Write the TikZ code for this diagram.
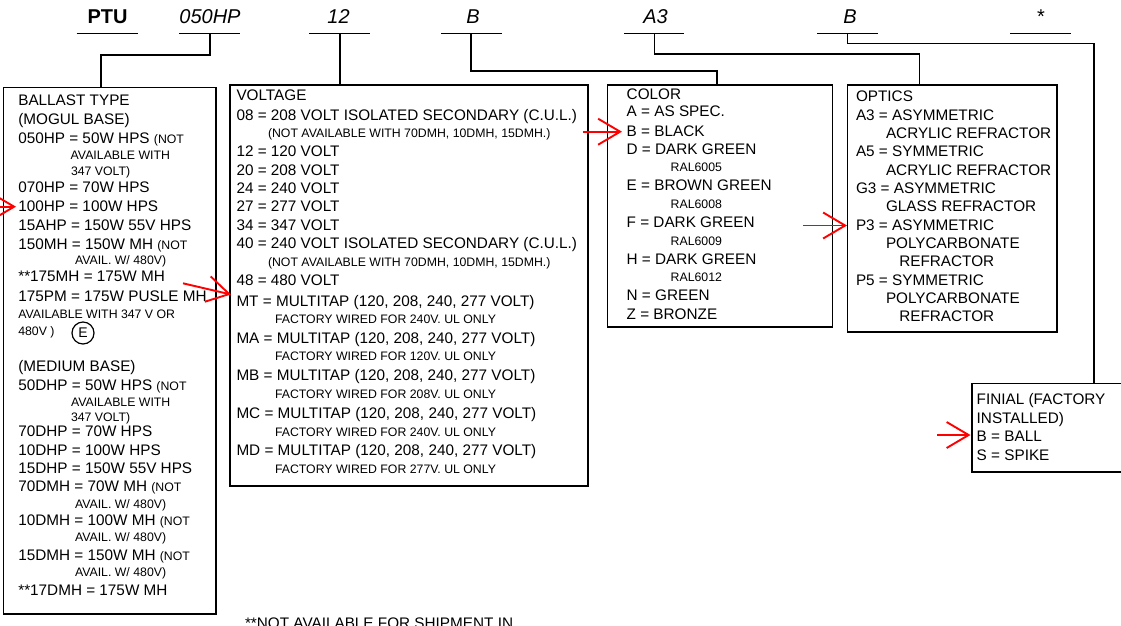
\documentclass[tikz,border=0pt]{standalone}
\usepackage{fontspec}
\setmainfont{Liberation Sans}
\usetikzlibrary{arrows.meta}
\newcommand\fbig{\fontsize{15.3}{18}\selectfont}
\newcommand\fsml{\fontsize{12.3}{14}\selectfont}
\newcommand\ftop{\fontsize{20}{24}\selectfont}
\begin{document}
\begin{tikzpicture}[x=1pt,y=-1pt,
  tx/.style={anchor=base west, inner sep=0pt, outer sep=0pt, font=\fbig},
  sm/.style={tx, font=\fsml},
  box/.style={draw, line width=1.6pt, anchor=north west, inner sep=0pt, outer sep=0pt},
  conn/.style={line width=1.6pt},
  uline/.style={line width=1.6pt},
  toplbl/.style={anchor=base, inner sep=0pt, font=\ftop\itshape},
  redarr/.style={draw=red, line width=1.9pt, -{Straight Barb[length=22pt,width=26pt]}}]
\useasboundingbox (0,0) rectangle (1121,625);
\clip (0,0) rectangle (1121,625);

% ---------- top code labels ----------
\node[toplbl, font=\ftop\bfseries] (lptu) at (107.5,23.3) {PTU};
\node[toplbl] (l050) at (210,23.3) {050HP};
\node[toplbl] (l12) at (338.5,23.3) {12};
\node[toplbl] (lb1) at (473,23.3) {B};
\node[toplbl] (la3) at (655.5,23.3) {A3};
\node[toplbl] (lb2) at (850,23.3) {B};
\node[toplbl, font=\ftop] (lst) at (1041,23.3) {*};

\coordinate (uptuL) at (76.7,33.3);  \coordinate (uptuR) at (138.3,33.3);
\coordinate (u050L) at (179.3,33.3); \coordinate (u050R) at (240,33.3);
\coordinate (u12L)  at (309.3,33.3); \coordinate (u12R)  at (370,33.3);
\coordinate (ub1L)  at (441,33.3);   \coordinate (ub1R)  at (502,33.3);
\coordinate (ua3L)  at (624.3,33.3); \coordinate (ua3R)  at (684.3,33.3);
\coordinate (ub2L)  at (817,33.3);   \coordinate (ub2R)  at (878,33.3);
\coordinate (ustL)  at (1010,33.3);  \coordinate (ustR)  at (1071,33.3);
\foreach \u in {uptu,u050,u12,ub1,ua3,ub2,ust}{\draw[uline] (\u L) -- (\u R);}

% ---------- boxes ----------
\node[box, minimum width=212.7pt, minimum height=526.7pt] (ballast) at (3.3,87.3) {};
\node[box, minimum width=358pt, minimum height=401pt] (voltage) at (230,85) {};
\node[box, minimum width=225pt, minimum height=241.7pt] (color) at (607.3,85) {};
\node[box, minimum width=209.4pt, minimum height=246.7pt] (optics) at (847.3,85) {};
\node[box, minimum width=160pt, minimum height=88.4pt] (finial) at (971.7,383.3) {};

% ---------- connectors ----------
\coordinate (t050) at (210,33.3);  \coordinate (k050) at (100.7,55);
\draw[conn] (t050) |- (k050) -- (k050 |- ballast.north);
\coordinate (t12) at (340,33.3);
\draw[conn] (t12) -- (t12 |- voltage.north);
\coordinate (tb1) at (470.7,33.3); \coordinate (kb1) at (717,70.7);
\draw[conn] (tb1) |- (kb1) -- (kb1 |- color.north);
\coordinate (ta3) at (654.6,33.3); \coordinate (ka3) at (919.5,54);
\draw[conn] (ta3) |- (ka3) -- (ka3 |- optics.north);
\coordinate (tb2) at (847.5,33.3); \coordinate (kb2) at (1094,43.3);
\draw[conn] (tb2) |- (kb2) -- (kb2 |- finial.north);

% ---------- ballast type ----------
\node[tx] (b1) at (18.3,105) {BALLAST TYPE};
\node[tx] (b2) at (18.3,124.3) {(MOGUL BASE)};
\node[tx] (b3) at (18.3,143.3) {050HP = 50W HPS {\fsml (NOT}};
\node[sm] (b4) at (70.7,159) {AVAILABLE WITH};
\node[sm] (b5) at (71,175) {347 VOLT)};
\node[tx] (b6) at (18.3,192.3) {070HP = 70W HPS};
\node[tx] (b7) at (18.3,211.7) {100HP = 100W HPS};
\node[tx] (b8) at (18.3,230.7) {15AHP = 150W 55V HPS};
\node[tx] (b9) at (18.3,249) {150MH = 150W MH {\fsml (NOT}};
\node[sm] (b10) at (75,264.3) {AVAIL. W/ 480V)};
\node[tx] (b11) at (18.3,281.7) {**175MH = 175W MH};
\node[tx] (b12) at (18.3,301) {175PM = 175W PUSLE MH};
\node[sm] (b13) at (18.3,318.3) {AVAILABLE WITH 347 V OR};
\node[sm] (b14) at (18.3,335.7) {480V )};
\node[circle, draw, line width=1.2pt, minimum size=22pt, inner sep=0pt, font=\fontsize{14}{14}\selectfont] (ecirc) at (83,333) {E};
\node[tx] (b15) at (18.3,371.7) {(MEDIUM BASE)};
\node[tx] (b16) at (18.3,390) {50DHP = 50W HPS {\fsml (NOT}};
\node[sm] (b17) at (71,406) {AVAILABLE WITH};
\node[sm] (b18) at (71,421.7) {347 VOLT)};
\node[tx] (b19) at (18.3,436.7) {70DHP = 70W HPS};
\node[tx] (b20) at (18.3,455) {10DHP = 100W HPS};
\node[tx] (b21) at (18.3,473.3) {15DHP = 150W 55V HPS};
\node[tx] (b22) at (18.3,491.7) {70DMH = 70W MH {\fsml (NOT}};
\node[sm] (b23) at (75,508.3) {AVAIL. W/ 480V)};
\node[tx] (b24) at (18.3,525) {10DMH = 100W MH {\fsml (NOT}};
\node[sm] (b25) at (75,541.7) {AVAIL. W/ 480V)};
\node[tx] (b26) at (18.3,560) {15DMH = 150W MH {\fsml (NOT}};
\node[sm] (b27) at (75,576.7) {AVAIL. W/ 480V)};
\node[tx] (b28) at (18.3,595) {**17DMH = 175W MH};

% ---------- voltage ----------
\node[tx] (v1) at (236.5,100.5) {VOLTAGE};
\node[tx] (v2) at (236.5,120) {08 = 208 VOLT ISOLATED SECONDARY (C.U.L.)};
\node[sm] (v3) at (268,137.7) {(NOT AVAILABLE WITH 70DMH, 10DMH, 15DMH.)};
\node[tx] (v4) at (236.5,156.7) {12 = 120 VOLT};
\node[tx] (v5) at (236.5,175) {20 = 208 VOLT};
\node[tx] (v6) at (236.5,193.3) {24 = 240 VOLT};
\node[tx] (v7) at (236.5,211.7) {27 = 277 VOLT};
\node[tx] (v8) at (236.5,230) {34 = 347 VOLT};
\node[tx] (v9) at (236.5,248.3) {40 = 240 VOLT ISOLATED SECONDARY (C.U.L.)};
\node[sm] (v10) at (268,266.7) {(NOT AVAILABLE WITH 70DMH, 10DMH, 15DMH.)};
\node[tx] (v11) at (236.5,285) {48 = 480 VOLT};
\node[tx] (v12) at (236.5,306) {MT = MULTITAP (120, 208, 240, 277 VOLT)};
\node[sm] (v13) at (275,323.3) {FACTORY WIRED FOR 240V. UL ONLY};
\node[tx] (v14) at (236.5,343.3) {MA = MULTITAP (120, 208, 240, 277 VOLT)};
\node[sm] (v15) at (275,360.7) {FACTORY WIRED FOR 120V. UL ONLY};
\node[tx] (v16) at (236.5,380) {MB = MULTITAP (120, 208, 240, 277 VOLT)};
\node[sm] (v17) at (275,398.3) {FACTORY WIRED FOR 208V. UL ONLY};
\node[tx] (v18) at (236.5,418.3) {MC = MULTITAP (120, 208, 240, 277 VOLT)};
\node[sm] (v19) at (275,436) {FACTORY WIRED FOR 240V. UL ONLY};
\node[tx] (v20) at (236.5,455) {MD = MULTITAP (120, 208, 240, 277 VOLT)};
\node[sm] (v21) at (275,473.3) {FACTORY WIRED FOR 277V. UL ONLY};

% ---------- color ----------
\node[tx] (c1) at (626.7,99.3) {COLOR};
\node[tx] (c2) at (626.7,116.7) {A = AS SPEC.};
\node[tx] (c3) at (626.7,136) {B = BLACK};
\node[tx] (c4) at (626.7,154) {D = DARK GREEN};
\node[sm] (c5) at (670.7,171.7) {RAL6005};
\node[tx] (c6) at (626.7,190.7) {E = BROWN GREEN};
\node[sm] (c7) at (670.7,208.3) {RAL6008};
\node[tx] (c8) at (626.7,227.3) {F = DARK GREEN};
\node[sm] (c9) at (670.7,245) {RAL6009};
\node[tx] (c10) at (626.7,264) {H = DARK GREEN};
\node[sm] (c11) at (670.7,281.7) {RAL6012};
\node[tx] (c12) at (626.7,300.7) {N = GREEN};
\node[tx] (c13) at (626.7,319) {Z = BRONZE};

% ---------- optics ----------
\node[tx] (o1) at (856,101.7) {OPTICS};
\node[tx] (o2) at (856,120) {A3 = ASYMMETRIC};
\node[tx] (o3) at (886,138.3) {ACRYLIC REFRACTOR};
\node[tx] (o4) at (856,156.7) {A5 = SYMMETRIC};
\node[tx] (o5) at (886,175) {ACRYLIC REFRACTOR};
\node[tx] (o6) at (856,193.3) {G3 = ASYMMETRIC};
\node[tx] (o7) at (886,211.7) {GLASS REFRACTOR};
\node[tx] (o8) at (856,230) {P3 = ASYMMETRIC};
\node[tx] (o9) at (886,248.3) {POLYCARBONATE};
\node[tx] (o10) at (899.3,266.7) {REFRACTOR};
\node[tx] (o11) at (856,285) {P5 = SYMMETRIC};
\node[tx] (o12) at (886,303.3) {POLYCARBONATE};
\node[tx] (o13) at (899.3,321.7) {REFRACTOR};

% ---------- finial ----------
\node[tx] (f1) at (976.7,404) {FINIAL (FACTORY};
\node[tx] (f2) at (976.7,423.3) {INSTALLED)};
\node[tx] (f3) at (976.7,441.7) {B = BALL};
\node[tx] (f4) at (976.7,460) {S = SPIKE};

% ---------- footnote (cut at the page edge, as in the reference) ----------
\node[tx] (foot) at (245,628) {**NOT AVAILABLE FOR SHIPMENT IN};

% ---------- red selection arrows ----------
\coordinate (r1s) at (-12,206.7); \coordinate (r1e) at (16,206.7);
\coordinate (r2s) at (183,283.3); \coordinate (r2e) at (231,294.5);
\coordinate (r3s) at (583,131.7); \coordinate (r3e) at (622,131.7);
\coordinate (r4s) at (803,225.5); \coordinate (r4e) at (847,225.5);
\coordinate (r5s) at (937,435);   \coordinate (r5e) at (970.5,435);
\foreach \i in {1,...,5}{\draw[redarr] (r\i s) -- (r\i e);}
\end{tikzpicture}
\end{document}
